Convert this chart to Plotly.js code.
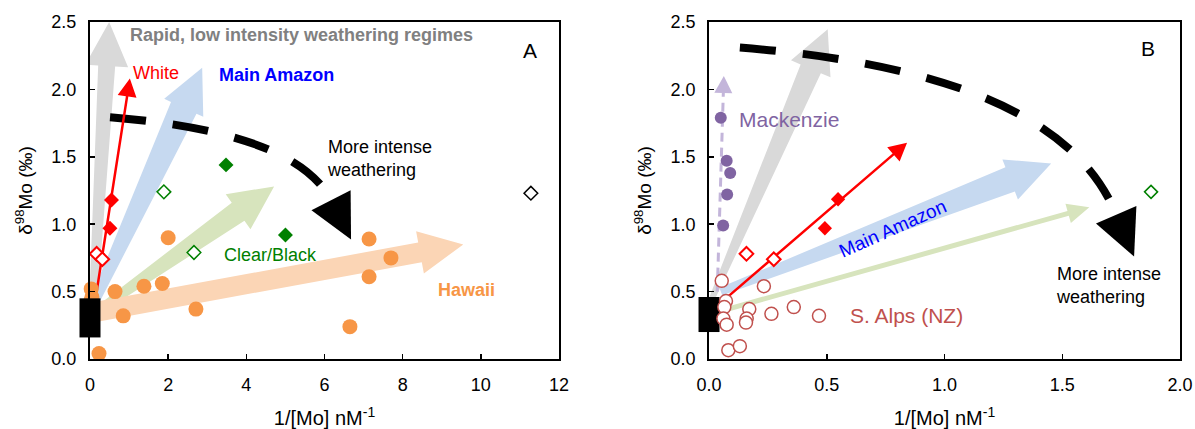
<!DOCTYPE html>
<html><head><meta charset="utf-8">
<script src="https://cdn.plot.ly/plotly-3.0.1.min.js"></script>
<style>html,body{margin:0;padding:0;background:#fff}#chart{width:1195px;height:429px}</style>
</head><body><div id="chart"></div>
<script>
// ---------------- Panel A data ----------------
const hawaiiX = [0.03, 0.05, 0.02, 0.64, 0.85, 1.38, 1.85, 2.00, 2.71, 0.23, 7.14, 7.70, 7.14, 6.65];
const hawaiiY = [0.52, 0.46, 0.43, 0.50, 0.32, 0.54, 0.56, 0.90, 0.37, 0.04, 0.89, 0.75, 0.61, 0.24];
const whiteOpenX = [0.17, 0.315], whiteOpenY = [0.78, 0.74];
const whiteFilledX = [0.51, 0.55], whiteFilledY = [0.97, 1.18];
const clearFilledX = [3.48, 5.00], clearFilledY = [1.44, 0.92];
const clearOpenX = [1.89, 2.66], clearOpenY = [1.24, 0.79];
const otherOpenX = [11.28], otherOpenY = [1.23];
const sourceA = [0.16, 0.45];            // crustal source range (black bar)
// trend arrows A: rapid (grey), Main Amazon (blue), Clear/Black (green), Hawaii (orange)
const trendA_x0 = [0.08, 0.15, 0.20, 0.15], trendA_y0 = [0.40, 0.45, 0.36, 0.35];
const trendA_x1 = [0.49, 2.87, 4.71, 9.55], trendA_y1 = [2.50, 2.16, 1.28, 0.85];
const whiteTrendA_x = [0.17, 1.02], whiteTrendA_y = [0.50, 2.08];
// curved "more intense weathering" arrow A: start, control, head base, tip
const arcA_x = [0.512, 5.27, 6.167, 6.679], arcA_y = [1.794, 1.683, 1.177, 0.887];

// ---------------- Panel B data ----------------
const mackX = [0.050, 0.075, 0.090, 0.077, 0.060], mackY = [1.79, 1.47, 1.38, 1.22, 0.99];
const alpsX = [0.054, 0.072, 0.065, 0.061, 0.075, 0.082, 0.131, 0.171, 0.160, 0.157, 0.233, 0.265, 0.360, 0.467];
const alpsY = [0.58, 0.43, 0.385, 0.30, 0.255, 0.065, 0.095, 0.37, 0.30, 0.27, 0.54, 0.335, 0.385, 0.32];
const whiteOpenBX = [0.159, 0.275], whiteOpenBY = [0.78, 0.74];
const whiteFilledBX = [0.492, 0.548], whiteFilledBY = [0.97, 1.185];
const clearOpenBX = [1.877], clearOpenBY = [1.24];
const sourceB = [0.20, 0.46];
// trend arrows B: grey, Main Amazon (blue), Clear/Black (green)
const trendB_x0 = [0.013, 0.05, 0.08], trendB_y0 = [0.45, 0.50, 0.37];
const trendB_x1 = [0.504, 1.453, 1.615], trendB_y1 = [2.446, 1.45, 1.125];
const whiteTrendB_x = [0.072, 0.841], whiteTrendB_y = [0.45, 1.605];
const mackTrend_x = [0.035, 0.063], mackTrend_y = [0.50, 2.10];
const arcB_x = [0.131, 1.487, 1.729, 1.805], arcB_y = [2.31, 2.129, 1.07, 0.76];

// ---------------- layout geometry ----------------
const W = 1195, H = 429, M = {l: 90, r: 15, t: 22, b: 70};
const plotW = W - M.l - M.r, plotH = H - M.t - M.b;
const domA = [0, 0.4303], domB = [0.5679, 1];
const xrA = [0, 12], xrB = [0, 2], yr = [0, 2.5];
function sc(dom, xr, yr) { return {kx: plotW * (dom[1] - dom[0]) / (xr[1] - xr[0]), ky: plotH / (yr[1] - yr[0])}; }
const sA = sc(domA, xrA, yr), sB = sc(domB, xrB, yr);
const f = v => v.toFixed(5);
function poly(s, ox, oy, pts) { return 'M' + pts.map(p => f(ox + p[0] / s.kx) + ',' + f(oy + p[1] / s.ky)).join(' L') + ' Z'; }
function arrowPath(s, x0, y0, x1, y1, w0, w1, hw, hl) {
  const dx = (x1 - x0) * s.kx, dy = (y1 - y0) * s.ky, L = Math.hypot(dx, dy);
  const ux = dx / L, uy = dy / L, nx = -uy, ny = ux, bx = dx - ux * hl, by = dy - uy * hl;
  return poly(s, x0, y0, [[nx*w0/2, ny*w0/2], [bx+nx*w1/2, by+ny*w1/2], [bx+nx*hw/2, by+ny*hw/2], [dx, dy],
    [bx-nx*hw/2, by-ny*hw/2], [bx-nx*w1/2, by-ny*w1/2], [-nx*w0/2, -ny*w0/2]]);
}
function headPath(s, bx, by, tx, ty, hw) {
  const dx = (tx - bx) * s.kx, dy = (ty - by) * s.ky, L = Math.hypot(dx, dy), nx = -dy / L, ny = dx / L;
  return poly(s, bx, by, [[nx*hw/2, ny*hw/2], [dx, dy], [-nx*hw/2, -ny*hw/2]]);
}
function headBase(s, x0, y0, x1, y1, hl) {
  const dx = (x1 - x0) * s.kx, dy = (y1 - y0) * s.ky, L = Math.hypot(dx, dy);
  return [x1 - dx / L * hl / s.kx, y1 - dy / L * hl / s.ky];
}
function fillShape(path, color, xr, yr2) {
  return {type: 'path', xref: xr, yref: yr2, path: path, fillcolor: color, line: {width: 0}, layer: 'below'};
}

const shapes = [];
// Panel A big arrows
const colA = ['#d9d9d9', '#c6d9f0', '#d7e4bd', '#fbd5b5'];
const wA0 = [8, 10, 8, 20], wA1 = [17, 28, 22, 20];
for (let i = 0; i < 4; i++) {
  shapes.push(fillShape(arrowPath(sA, trendA_x0[i], trendA_y0[i], trendA_x1[i], trendA_y1[i], wA0[i], wA1[i], 43, 44), colA[i], 'x', 'y'));
}
// Panel B big arrows
const colB = ['#d9d9d9', '#c6d9f0', '#d7e4bd'];
const wB0 = [6, 8, 5], wB1 = [22, 26, 5], hwB = [43, 43, 20], hlB = [43, 44, 22];
for (let i = 0; i < 3; i++) {
  shapes.push(fillShape(arrowPath(sB, trendB_x0[i], trendB_y0[i], trendB_x1[i], trendB_y1[i], wB0[i], wB1[i], hwB[i], hlB[i]), colB[i], 'x2', 'y2'));
}
// Mackenzie dashed arrow
const mb = headBase(sB, mackTrend_x[0], mackTrend_y[0], mackTrend_x[1], mackTrend_y[1], 17);
shapes.push({type: 'line', xref: 'x2', yref: 'y2', x0: mackTrend_x[0], y0: mackTrend_y[0], x1: mb[0], y1: mb[1],
  line: {color: '#c3b5da', width: 3, dash: '9px,6px'}, layer: 'below'});
shapes.push(fillShape(headPath(sB, mb[0], mb[1], mackTrend_x[1], mackTrend_y[1], 18), '#c3b5da', 'x2', 'y2'));
// curved arcs
function arcShapes(ax, ay, s, xr, yr2) {
  return [
    {type: 'path', xref: xr, yref: yr2, path: `M${ax[0]},${ay[0]} Q${ax[1]},${ay[1]} ${ax[2]},${ay[2]}`,
     line: {color: 'black', width: 8, dash: '36px,27px'}, fillcolor: 'rgba(0,0,0,0)', layer: 'below'},
    fillShape(headPath(s, ax[2], ay[2], ax[3], ay[3], 44), 'black', xr, yr2)
  ];
}
shapes.push(...arcShapes(arcA_x, arcA_y, sA, 'x', 'y'));
shapes.push(...arcShapes(arcB_x, arcB_y, sB, 'x2', 'y2'));
// red (White river) arrows
shapes.push(fillShape(arrowPath(sA, whiteTrendA_x[0], whiteTrendA_y[0], whiteTrendA_x[1], whiteTrendA_y[1], 2.5, 2.5, 19, 18), '#ff0000', 'x', 'y'));
shapes.push(fillShape(arrowPath(sB, whiteTrendB_x[0], whiteTrendB_y[0], whiteTrendB_x[1], whiteTrendB_y[1], 2.5, 2.5, 19, 18), '#ff0000', 'x2', 'y2'));

// ---------------- traces ----------------
function pts(x, y, xa, ya, marker) {
  return {x: x, y: y, xaxis: xa, yaxis: ya, type: 'scatter', mode: 'markers', cliponaxis: false, hoverinfo: 'skip', marker: marker};
}
function bar(src, s, xa, ya) {
  return pts([0], [(src[0] + src[1]) / 2], xa, ya, {symbol: 'line-ns', size: (src[1] - src[0]) * s.ky / 1.4, color: 'black', line: {color: 'black', width: 21}});
}
const orange = '#f79646', green = '#008000', red = '#ff0000';
const data = [
  pts(hawaiiX, hawaiiY, 'x', 'y', {symbol: 'circle', size: 15, color: orange}),
  pts(clearFilledX, clearFilledY, 'x', 'y', {symbol: 'diamond', size: 11.5, color: green}),
  pts(clearOpenX, clearOpenY, 'x', 'y', {symbol: 'diamond', size: 10.5, color: 'white', line: {color: green, width: 1.5}}),
  pts(otherOpenX, otherOpenY, 'x', 'y', {symbol: 'diamond', size: 10.5, color: 'white', line: {color: 'black', width: 1.5}}),
  pts(whiteFilledX, whiteFilledY, 'x', 'y', {symbol: 'diamond', size: 11.5, color: red}),
  pts(whiteOpenX, whiteOpenY, 'x', 'y', {symbol: 'diamond', size: 10.5, color: 'white', line: {color: red, width: 2}}),
  bar(sourceA, sA, 'x', 'y'),
  bar(sourceB, sB, 'x2', 'y2'),
  pts(mackX, mackY, 'x2', 'y2', {symbol: 'circle', size: 12, color: '#8064a2'}),
  pts(alpsX, alpsY, 'x2', 'y2', {symbol: 'circle', size: 13, color: 'white', line: {color: '#c0504d', width: 1.5}}),
  pts(whiteFilledBX, whiteFilledBY, 'x2', 'y2', {symbol: 'diamond', size: 11, color: red}),
  pts(whiteOpenBX, whiteOpenBY, 'x2', 'y2', {symbol: 'diamond', size: 10.5, color: 'white', line: {color: red, width: 2}}),
  pts(clearOpenBX, clearOpenBY, 'x2', 'y2', {symbol: 'diamond', size: 10, color: 'white', line: {color: green, width: 1.5}})
];

// ---------------- annotations ----------------
function txt(x, y, xa, ya, text, color, size, bold, extra) {
  return Object.assign({x: x, y: y, xref: xa, yref: ya, text: bold ? '<b>' + text + '</b>' : text, showarrow: false,
    xanchor: 'left', yanchor: 'middle', font: {color: color, size: size}}, extra || {});
}
const annotations = [
  txt(0.97, 2.40, 'x', 'y', 'Rapid, low intensity weathering regimes', '#808080', 18, true),
  txt(1.05, 2.12, 'x', 'y', 'White', red, 18, false),
  txt(3.25, 2.11, 'x', 'y', 'Main Amazon', '#0000ff', 18, true),
  txt(6.01, 1.49, 'x', 'y', 'More intense<br>weathering', 'black', 18, false, {align: 'left'}),
  txt(3.38, 0.775, 'x', 'y', 'Clear/Black', green, 18, false),
  txt(8.85, 0.515, 'x', 'y', 'Hawaii', orange, 18, true),
  txt(11.26, 2.29, 'x', 'y', 'A', 'black', 21, false, {xanchor: 'center'}),
  txt(1.864, 2.306, 'x2', 'y2', 'B', 'black', 21, false, {xanchor: 'center'}),
  txt(0.119, 1.78, 'x2', 'y2', 'Mackenzie', '#8064a2', 21, false),
  txt(0.589, 0.32, 'x2', 'y2', 'S. Alps (NZ)', '#c0504d', 21, false),
  txt(1.466, 0.546, 'x2', 'y2', 'More intense<br>weathering', 'black', 18, false, {align: 'left'}),
  txt(0.78, 0.97, 'x2', 'y2', 'Main Amazon', '#0000ff', 19, false, {xanchor: 'center', textangle: -24})
];

const axis = {showline: true, linecolor: 'black', linewidth: 2, mirror: true, ticks: 'inside', ticklen: 5, tickwidth: 1.5,
  tickcolor: 'black', showgrid: false, zeroline: false, tickfont: {size: 18}, ticklabelstandoff: 8, fixedrange: true};
const ytitle = {text: 'δ<sup>98</sup>Mo (‰)', font: {size: 19}, standoff: 14};
const xtitle = {text: '1/[Mo] nM<sup>-1</sup>', font: {size: 20}, standoff: 18};
const layout = {
  width: W, height: H, margin: M, paper_bgcolor: 'white', plot_bgcolor: 'white', showlegend: false,
  font: {family: 'Arial, "Liberation Sans", sans-serif', color: 'black', size: 18},
  xaxis: Object.assign({}, axis, {domain: domA, range: xrA, dtick: 2, tick0: 0, anchor: 'y', title: xtitle}),
  yaxis: Object.assign({}, axis, {range: yr, dtick: 0.5, tick0: 0, tickformat: '.1f', anchor: 'x', title: ytitle}),
  xaxis2: Object.assign({}, axis, {domain: domB, range: xrB, dtick: 0.5, tick0: 0, tickformat: '.1f', anchor: 'y2', title: xtitle}),
  yaxis2: Object.assign({}, axis, {range: yr, dtick: 0.5, tick0: 0, tickformat: '.1f', anchor: 'x2', title: ytitle}),
  shapes: shapes, annotations: annotations
};
Plotly.newPlot('chart', data, layout, {staticPlot: true, displayModeBar: false});
</script></body></html>
